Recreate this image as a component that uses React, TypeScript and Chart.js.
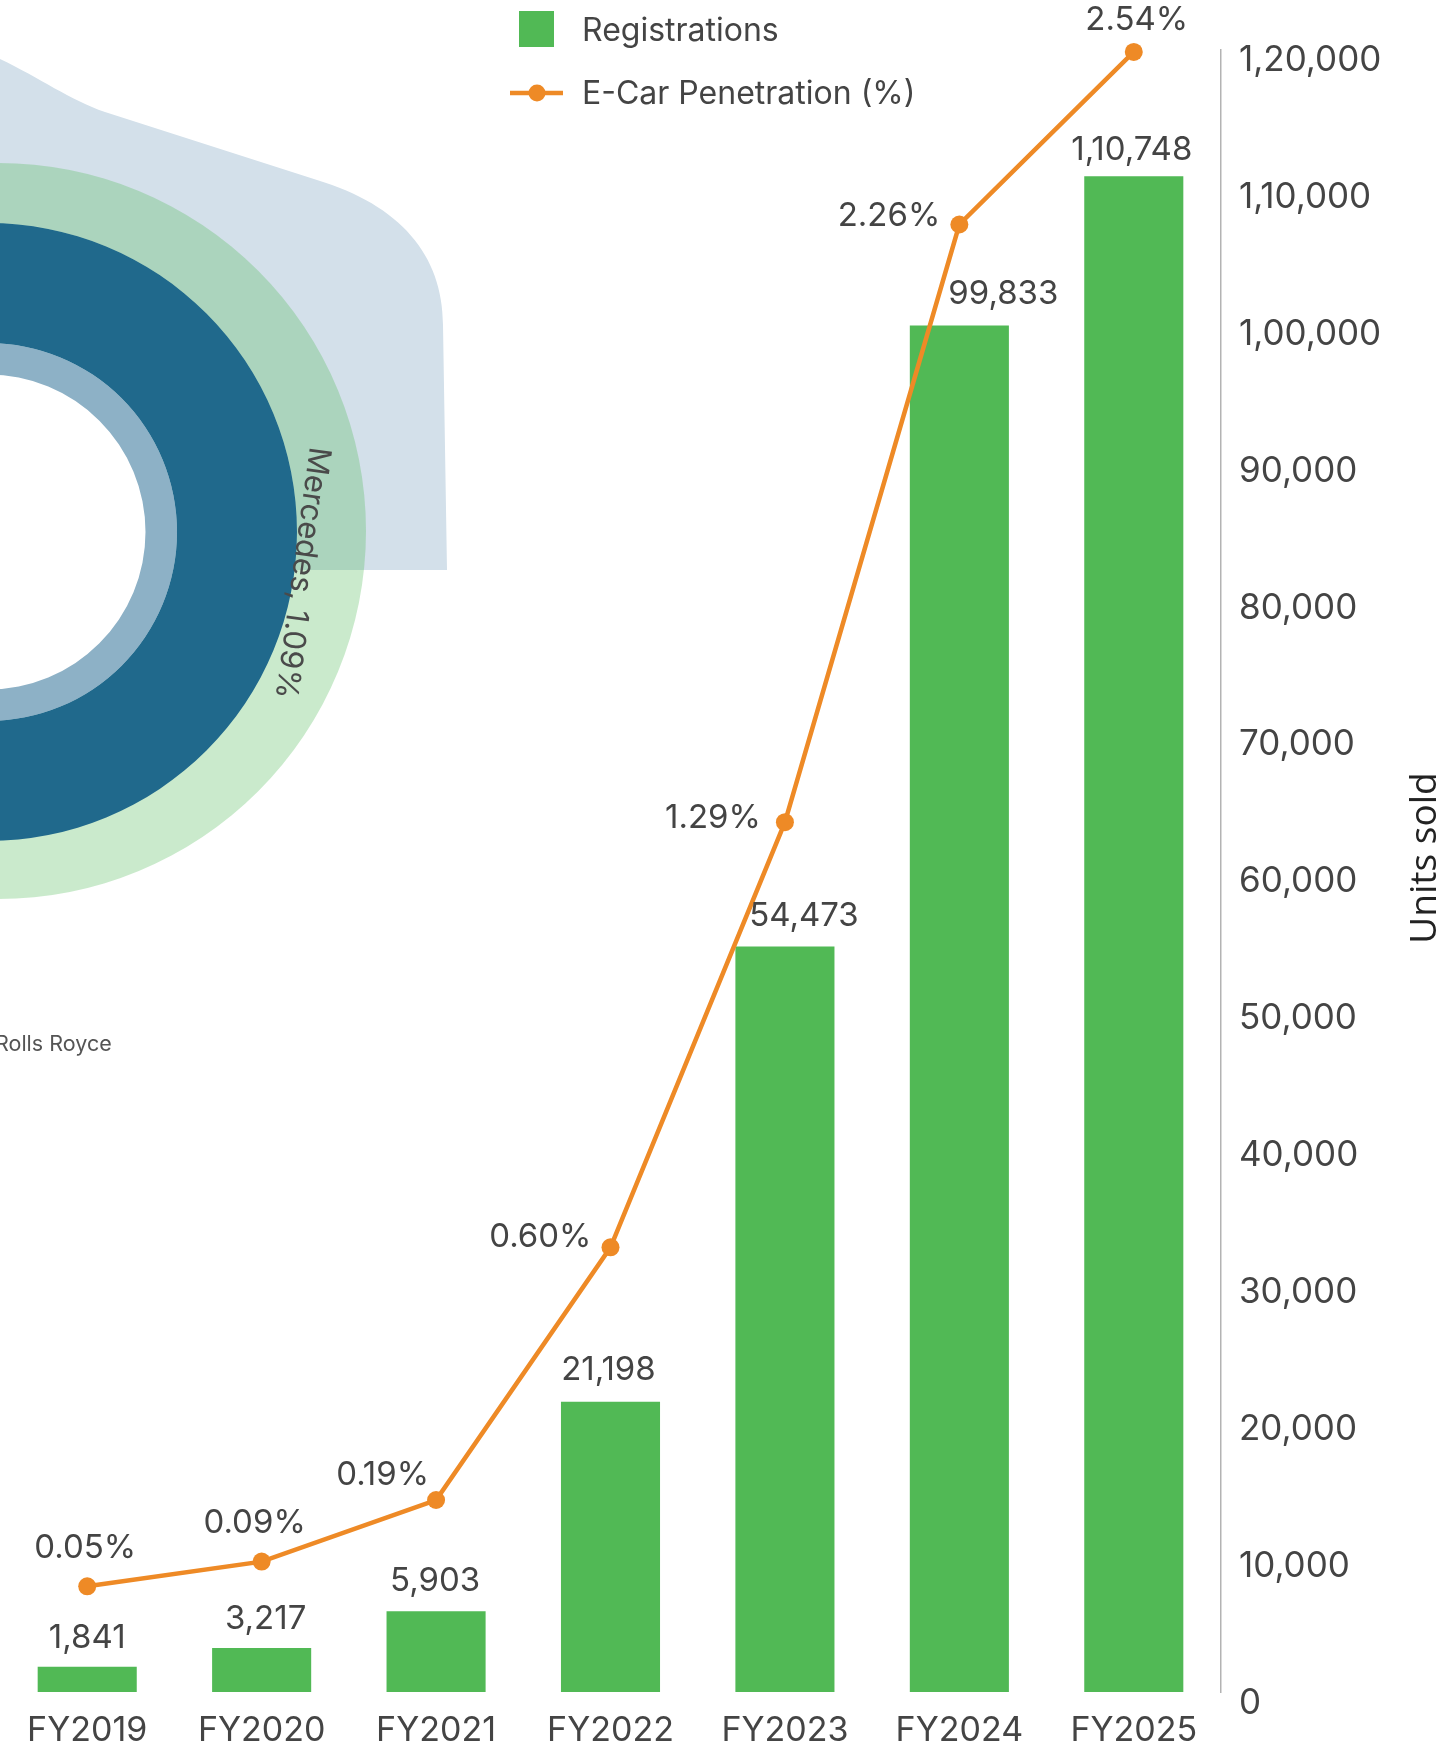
import React, { useEffect, useRef } from 'react';
import { Chart, registerables } from 'chart.js';

Chart.register(...registerables);

// ---------- data ----------
const categories = ['FY2019', 'FY2020', 'FY2021', 'FY2022', 'FY2023', 'FY2024', 'FY2025'];
const registrations = [1841, 3217, 5903, 21198, 54473, 99833, 110748];
const penetration = [0.05, 0.09, 0.19, 0.6, 1.29, 2.26, 2.54];
const seriesNames = ['Registrations', 'E-Car Penetration (%)'];
const yAxisTitle = 'Units sold';
const yTickMin = 0;
const yTickMax = 120000;
const yTickStep = 10000;
const pctAxisMin = -0.1216;
const pctAxisMax = 2.544;

// decorative background (neighbouring chart, partially visible)
const outerRingNames = ['Outer'];
const outerRingValues = [1];
const innerRingNames = ['Middle', 'Inner'];
const innerRingValues = [[1], [1]];
const donutSliceLabel = 'Mercedes, 1.09%';
const donutLegendLabel = 'Rolls Royce';

// ---------- styles ----------
const GREEN = '#51b955';
const ORANGE = '#ee8a26';
const TEXT = '#444444';
const FONT = 'Inter, "Noto Sans", sans-serif';

const barLabelDx = [0, 4, -1, -2, 19, 44, -2];
const barLabelDy = [-29, -29, -30, -32, -30, -31, -26];
const lineLabelPos = [
  { mode: 'above', dx: -2, dy: -38 },
  { mode: 'above', dx: -7, dy: -39 },
  { mode: 'left', dx: -7, dy: -25 },
  { mode: 'left', dx: -19, dy: -10 },
  { mode: 'left', dx: -24, dy: -4 },
  { mode: 'left', dx: -19, dy: -8 },
  { mode: 'above', dx: 3, dy: -32 },
];

function fmtIN(n: number): string {
  const s = Math.round(n).toString();
  if (s.length <= 3) return s;
  const last3 = s.slice(-3);
  let rest = s.slice(0, -3);
  const parts: string[] = [];
  while (rest.length > 2) {
    parts.unshift(rest.slice(-2));
    rest = rest.slice(0, -2);
  }
  if (rest) parts.unshift(rest);
  return parts.join(',') + ',' + last3;
}

const overlayPlugin = {
  id: 'overlay',
  afterDatasetsDraw(chart: any) {
    const ctx = chart.ctx;
    ctx.save();
    ctx.fillStyle = TEXT;
    ctx.textBaseline = 'middle';
    ctx.font = `400 33px ${FONT}`;
    const barMeta = chart.getDatasetMeta(0);
    barMeta.data.forEach((el: any, i: number) => {
      const p = el.getProps(['x', 'y'], true);
      ctx.textAlign = 'center';
      ctx.fillText(fmtIN(registrations[i]), p.x + barLabelDx[i], p.y + barLabelDy[i]);
    });
    const lineMeta = chart.getDatasetMeta(1);
    lineMeta.data.forEach((el: any, i: number) => {
      const p = el.getProps(['x', 'y'], true);
      const pos = lineLabelPos[i];
      ctx.textAlign = pos.mode === 'left' ? 'right' : 'center';
      ctx.fillText(penetration[i].toFixed(2) + '%', p.x + pos.dx, p.y + pos.dy);
    });
    ctx.restore();
  },
  afterDraw(chart: any) {
    const ctx = chart.ctx;
    const ds = chart.data.datasets;
    ctx.save();
    // legend
    ctx.fillStyle = ds[0].backgroundColor;
    ctx.fillRect(519, 11, 35, 36);
    ctx.strokeStyle = ds[1].borderColor;
    ctx.lineWidth = 4.5;
    ctx.beginPath();
    ctx.moveTo(510, 93);
    ctx.lineTo(563, 93);
    ctx.stroke();
    ctx.fillStyle = ds[1].borderColor;
    ctx.beginPath();
    ctx.arc(537, 93, 8.5, 0, Math.PI * 2);
    ctx.fill();
    ctx.fillStyle = TEXT;
    ctx.font = `400 32px ${FONT}`;
    ctx.textAlign = 'left';
    ctx.textBaseline = 'middle';
    ctx.fillText(ds[0].label, 582, 31);
    ctx.fillText(ds[1].label, 582, 94);
    // y-axis title
    ctx.translate(1425, 858);
    ctx.rotate(-Math.PI / 2);
    ctx.fillStyle = '#222222';
    ctx.font = `400 37px "Open Sans", sans-serif`;
    ctx.textAlign = 'center';
    ctx.fillText(yAxisTitle, 0, 0);
    ctx.restore();
  },
};

// canvas A (outer ring + backdrop): centre at page (-2, 531)
const AX = 502;
const AY = 31;
// canvas B (inner rings + labels): centre at page (-12, 532)
const BX = 512;
const BY = 32;
const INNER_CX = -12;
const INNER_CY = 532;
const INNER_R = 309;

const backdropPlugin = {
  id: 'backdrop',
  beforeDatasetsDraw(chart: any) {
    const ctx = chart.ctx;
    ctx.save();
    ctx.translate(AX, -AY);
    ctx.fillStyle = '#d3e0ea';
    ctx.beginPath();
    ctx.moveTo(0, 59);
    ctx.bezierCurveTo(40, 78, 70, 100, 105, 112);
    ctx.lineTo(317, 180);
    ctx.bezierCurveTo(400, 205, 443, 255, 443, 325);
    ctx.lineTo(447, 570);
    ctx.lineTo(0, 570);
    ctx.closePath();
    ctx.fill();
    ctx.fillStyle = '#ffffff';
    ctx.beginPath();
    ctx.arc(INNER_CX, INNER_CY, INNER_R, 0, Math.PI * 2);
    ctx.fill();
    ctx.restore();
  },
};

const innerLabelsPlugin = {
  id: 'innerLabels',
  afterDatasetsDraw(chart: any) {
    const ctx = chart.ctx;
    ctx.save();
    ctx.translate(BX, -BY);
    ctx.save();
    ctx.translate(302, 573);
    ctx.rotate((97.8 * Math.PI) / 180);
    ctx.fillStyle = '#4a4a4a';
    ctx.font = `400 31px ${FONT}`;
    ctx.textAlign = 'center';
    ctx.textBaseline = 'middle';
    ctx.fillText(donutSliceLabel, 0, 0);
    ctx.restore();
    ctx.fillStyle = '#555555';
    ctx.font = `400 21.5px ${FONT}`;
    ctx.textAlign = 'left';
    ctx.textBaseline = 'middle';
    ctx.fillText(donutLegendLabel, -5, 1045);
    ctx.restore();
  },
};

export default function App() {
  const mainRef = useRef<HTMLCanvasElement>(null);
  const outerRef = useRef<HTMLCanvasElement>(null);
  const innerRef = useRef<HTMLCanvasElement>(null);

  useEffect(() => {
    const outer = new Chart(outerRef.current as HTMLCanvasElement, {
      type: 'doughnut',
      data: {
        labels: outerRingNames,
        datasets: [
          { label: outerRingNames[0], data: outerRingValues, backgroundColor: 'rgba(81,185,85,0.3)', borderWidth: 0 },
        ],
      } as any,
      options: {
        responsive: false,
        animation: false,
        devicePixelRatio: 1,
        events: [],
        radius: 368,
        cutout: `${(285 / 368) * 100}%`,
        layout: { padding: { bottom: 100 } },
        plugins: { legend: { display: false }, tooltip: { enabled: false } },
      } as any,
      plugins: [backdropPlugin],
    });

    const inner = new Chart(innerRef.current as HTMLCanvasElement, {
      type: 'doughnut',
      data: {
        labels: ['All'],
        datasets: [
          { label: innerRingNames[0], data: innerRingValues[0], backgroundColor: '#20698c', borderWidth: 0, weight: 120 },
          { label: innerRingNames[1], data: innerRingValues[1], backgroundColor: '#8db1c6', borderWidth: 0, weight: 31.5 },
        ],
      } as any,
      options: {
        responsive: false,
        animation: false,
        devicePixelRatio: 1,
        events: [],
        radius: INNER_R,
        cutout: `${(157.5 / INNER_R) * 100}%`,
        layout: { padding: { bottom: 100 } },
        plugins: { legend: { display: false }, tooltip: { enabled: false } },
      } as any,
      plugins: [innerLabelsPlugin],
    });

    const chart = new Chart(mainRef.current as HTMLCanvasElement, {
      type: 'bar',
      data: {
        labels: categories,
        datasets: [
          {
            type: 'bar',
            label: seriesNames[0],
            data: registrations,
            backgroundColor: GREEN,
            yAxisID: 'y',
            order: 2,
            barPercentage: 0.568,
            categoryPercentage: 1,
          },
          {
            type: 'line',
            label: seriesNames[1],
            data: penetration,
            borderColor: ORANGE,
            backgroundColor: ORANGE,
            pointBackgroundColor: ORANGE,
            borderWidth: 4.5,
            pointRadius: 9,
            pointHoverRadius: 9,
            pointBorderWidth: 0,
            tension: 0,
            yAxisID: 'y1',
            order: 1,
            clip: false,
          },
        ],
      } as any,
      options: {
        responsive: false,
        animation: false,
        devicePixelRatio: 1,
        events: [],
        layout: { autoPadding: false, padding: { top: 49.5, left: 0, right: 0, bottom: 0 } },
        plugins: { legend: { display: false }, tooltip: { enabled: false }, title: { display: false } },
        scales: {
          x: {
            offset: true,
            grid: { display: false, drawTicks: false },
            border: { display: false },
            ticks: {
              color: TEXT,
              font: { family: FONT, size: 34 },
              padding: 18,
              maxRotation: 0,
              autoSkip: false,
            },
            afterFit: (s: any) => {
              s.height = 54;
              s.paddingLeft = 0;
              s.paddingRight = 0;
            },
          },
          y: {
            position: 'right',
            min: yTickMin,
            max: yTickMax,
            grid: { display: false, drawTicks: false },
            border: { display: true, color: '#b3b3b3', width: 1.5 },
            ticks: {
              stepSize: yTickStep,
              color: TEXT,
              font: { family: FONT, size: 35 },
              padding: 18,
              labelOffset: 11,
              callback: (v: any) => fmtIN(Number(v)),
            },
            afterFit: (s: any) => {
              s.width = 225;
            },
          },
          y1: {
            display: false,
            min: pctAxisMin,
            max: pctAxisMax,
          },
        },
      } as any,
      plugins: [overlayPlugin],
    });

    return () => {
      chart.destroy();
      inner.destroy();
      outer.destroy();
    };
  }, []);

  return (
    <div style={{ position: 'absolute', left: 0, top: 0, width: 1446, height: 1746, overflow: 'hidden', background: '#ffffff' }}>
      <canvas
        ref={outerRef}
        width={1000}
        height={1100}
        style={{ position: 'absolute', left: -AX, top: AY, width: 1000, height: 1100 }}
      />
      <canvas
        ref={innerRef}
        width={1000}
        height={1100}
        style={{ position: 'absolute', left: -BX, top: BY, width: 1000, height: 1100 }}
      />
      <canvas
        ref={mainRef}
        width={1446}
        height={1746}
        style={{ position: 'absolute', left: 0, top: 0, width: 1446, height: 1746 }}
      />
    </div>
  );
}
